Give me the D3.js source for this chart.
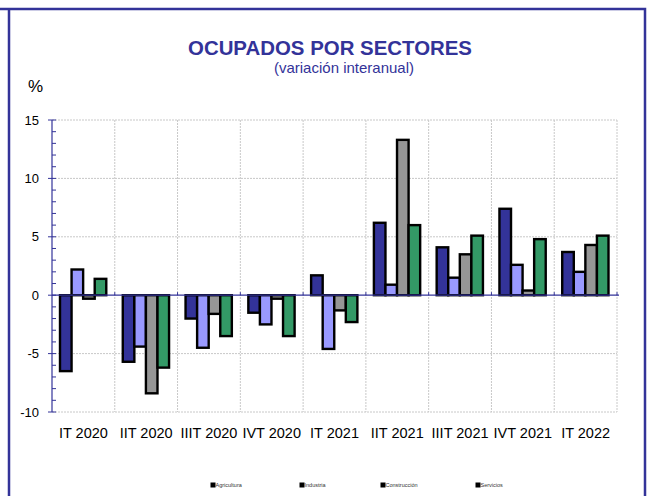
<!DOCTYPE html>
<html>
<head>
<meta charset="utf-8">
<script src="https://cdn.jsdelivr.net/npm/d3@7"></script>
<style>
  body { margin: 0; background: #fff; }
  svg { display: block; font-family: "Liberation Sans", Arial, sans-serif; }
</style>
</head>
<body>
<svg width="654" height="496"></svg>
<script>
// data
const quarters = ["IT 2020", "IIT 2020", "IIIT 2020", "IVT 2020", "IT 2021", "IIT 2021", "IIIT 2021", "IVT 2021", "IT 2022"];
const sectors = ["Agricultura", "Industria", "Construcción", "Servicios"];
const agricultura  = [-6.5, -5.7, -2.0, -1.5,  1.7, 6.2, 4.1, 7.4, 3.7];
const industria    = [ 2.2, -4.4, -4.5, -2.5, -4.6, 0.9, 1.5, 2.6, 2.0];
const construccion = [-0.3, -8.4, -1.6, -0.3, -1.3, 13.3, 3.5, 0.4, 4.3];
const servicios    = [ 1.4, -6.2, -3.5, -3.5, -2.3, 6.0, 5.1, 4.8, 5.1];
const yTicks = [-10, -5, 0, 5, 10, 15];

const colors = ["#333399", "#9999ff", "#969696", "#339966"];
const seriesVals = [agricultura, industria, construccion, servicios];

const svg = d3.select("svg");
const blue = "#333399";

// outer frame
svg.append("path")
  .attr("d", "M0,9 H645 V496 M9,9 V496")
  .attr("fill", "none").attr("stroke", blue).attr("stroke-width", 2.5);

// titles
svg.append("text").attr("x", 330).attr("y", 55).attr("text-anchor", "middle")
  .attr("font-size", 20).attr("font-weight", "bold").attr("fill", blue)
  .attr("textLength", 284).attr("lengthAdjust", "spacingAndGlyphs")
  .text("OCUPADOS POR SECTORES");
svg.append("text").attr("x", 344).attr("y", 73).attr("text-anchor", "middle")
  .attr("font-size", 15).attr("fill", blue)
  .text("(variación interanual)");
svg.append("text").attr("x", 28).attr("y", 92)
  .attr("font-size", 17).attr("fill", "#000").text("%");

const pLeft = 52, pRight = 617, pTop = 120, pBottom = 412;

const x = d3.scaleBand().domain(quarters).range([pLeft, pRight]).paddingInner(0).paddingOuter(0);
const y = d3.scaleLinear().domain([-10, 15]).range([pBottom, pTop]);
const xs = d3.scaleBand().domain(sectors).range([8, x.bandwidth() - 8.5]).padding(0);

// grid
const grid = svg.append("g").attr("stroke", "#c8c8c8").attr("stroke-dasharray", "2,1").attr("stroke-width", 1);
yTicks.filter(d => d !== 0).forEach(t => {
  grid.append("line").attr("x1", pLeft).attr("x2", pRight).attr("y1", y(t)).attr("y2", y(t));
});
quarters.forEach(q => {
  grid.append("line").attr("x1", x(q) + x.bandwidth()).attr("x2", x(q) + x.bandwidth())
    .attr("y1", pTop).attr("y2", pBottom);
});

// bars
const groups = svg.append("g").selectAll("g").data(quarters).join("g")
  .attr("transform", d => `translate(${x(d)},0)`);
groups.selectAll("rect")
  .data((q, i) => sectors.map((s, j) => ({ s, j, v: seriesVals[j][i] })))
  .join("rect")
  .attr("x", d => xs(d.s))
  .attr("width", xs.bandwidth())
  .attr("y", d => y(Math.max(0, d.v)))
  .attr("height", d => Math.abs(y(d.v) - y(0)))
  .attr("fill", d => colors[d.j])
  .attr("stroke", "#000").attr("stroke-width", 2.4);

// zero line with category ticks
const xAxis = svg.append("g").attr("transform", `translate(0,${y(0)})`);
xAxis.append("line").attr("x1", pLeft).attr("x2", pRight + 2).attr("stroke", blue).attr("stroke-width", 1.2);
quarters.forEach(q => {
  xAxis.append("line").attr("x1", x(q) + x.bandwidth()).attr("x2", x(q) + x.bandwidth())
    .attr("y1", -3).attr("y2", 0).attr("stroke", blue);
});

// y axis
const yAxis = svg.append("g").attr("transform", `translate(${pLeft},0)`);
yAxis.append("line").attr("y1", pTop).attr("y2", pBottom).attr("stroke", blue).attr("stroke-width", 1.2);
d3.range(-10, 16).forEach(v => {
  const major = v % 5 === 0;
  yAxis.append("line").attr("x1", major ? -4 : 0).attr("x2", 4)
    .attr("y1", y(v)).attr("y2", y(v)).attr("stroke", blue);
});
yAxis.selectAll("text").data(yTicks).join("text")
  .attr("x", -13).attr("y", d => y(d) + 4.5)
  .attr("text-anchor", "end").attr("font-size", 13).attr("fill", "#000")
  .text(d => d);

// category labels
svg.append("g").selectAll("text").data(quarters).join("text")
  .attr("x", d => x(d) + x.bandwidth() / 2).attr("y", 438)
  .attr("text-anchor", "middle").attr("font-size", 14.5).attr("fill", "#000")
  .text(d => d);

// legend
const legendX = [213, 302, 383, 478];
const legend = svg.append("g").selectAll("g").data(sectors).join("g")
  .attr("transform", (d, i) => `translate(${legendX[i]},485)`);
legend.append("rect").attr("x", -2.5).attr("y", -2.5).attr("width", 5).attr("height", 5).attr("fill", "#000");
legend.append("text").attr("x", 2.5).attr("y", 2).attr("font-size", 5.5).attr("fill", "#333")
  .text(d => d);
</script>
</body>
</html>
